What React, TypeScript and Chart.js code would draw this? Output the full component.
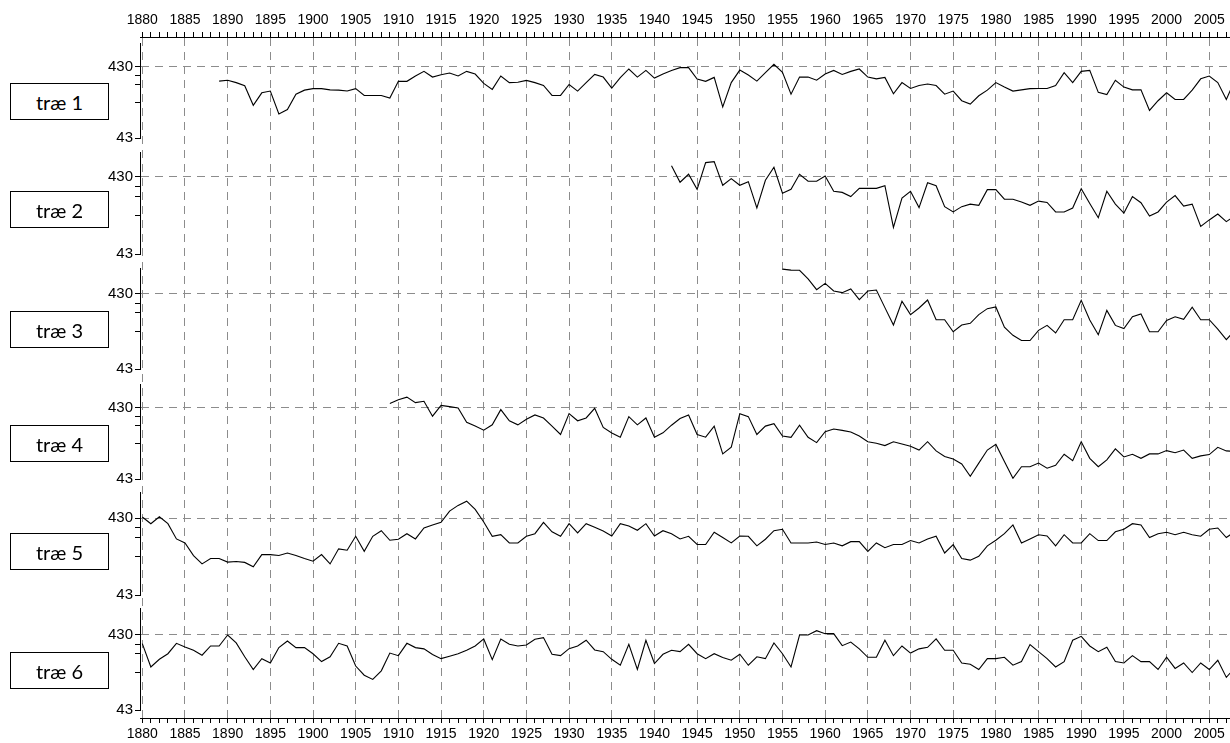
import { useEffect, useRef } from 'react';
import { Chart, registerables } from 'chart.js';

Chart.register(...registerables);

// ---------- data ----------
const tree1Start = 1889;
const tree1 = [272, 280, 259, 234, 124, 186, 197, 94, 108, 178,
  203, 213, 213, 205, 203, 197, 213, 171, 171, 171,
  157, 270, 270, 321, 373, 310, 335, 354, 321, 373,
  342, 253, 208, 321, 259, 262, 278, 259, 236, 171,
  171, 244, 197, 259, 338, 310, 217, 304, 403, 310,
  385, 300, 342, 385, 421, 421, 290, 270, 307, 118,
  259, 389, 331, 272, 357, 469, 362, 178, 310, 310,
  280, 342, 385, 338, 373, 403, 310, 293, 307, 180,
  259, 214, 236, 248, 236, 178, 197, 144, 129, 169,
  203, 259, 224, 197, 205, 213, 214, 214, 236, 357,
  259, 373, 385, 189, 176, 280, 224, 205, 205, 105,
  144, 186, 150, 150, 203, 293, 321, 259, 150, 280];

const tree2Start = 1942;
const tree2 = [600, 367, 466, 297, 660, 680, 335, 409,
  335, 373, 170, 389, 574, 264, 297, 466, 378, 378,
  443, 280, 271, 239, 306, 306, 306, 331, 95, 229,
  280, 172, 362, 331, 177, 151, 177, 191, 184, 294,
  294, 221, 221, 203, 184, 209, 201, 151, 151, 170,
  303, 195, 127, 280, 191, 146, 239, 199, 134, 151,
  203, 246, 180, 191, 98, 119, 142, 113, 134];

const tree3Start = 1955;
const tree3 = [923, 896, 891, 682, 491,
  596, 471, 448, 502, 361, 471, 486, 283, 166, 344,
  228, 280, 357, 195, 195, 135, 166, 175, 228, 274,
  289, 155, 121, 103, 103, 141, 164, 130, 195, 195,
  354, 193, 123, 260, 164, 149, 214, 233, 135, 135,
  191, 214, 198, 286, 195, 195, 146, 106, 141];

const tree4Start = 1909;
const tree4 = [499,
  561, 612, 511, 534, 330, 468, 450, 430, 271, 239,
  209, 249, 408, 284, 249, 298, 343, 311, 239, 182,
  358, 284, 311, 425, 229, 191, 167, 325, 249, 311,
  167, 192, 246, 305, 343, 182, 167, 239, 97, 121,
  358, 325, 182, 239, 259, 173, 166, 246, 166, 140,
  199, 217, 208, 197, 173, 144, 137, 127, 144, 134,
  124, 110, 144, 107, 89, 82, 70, 47, 72, 110,
  132, 76, 44, 64, 64, 72, 61, 67, 96, 78,
  144, 84, 64, 80, 114, 88, 96, 84, 97, 97,
  108, 101, 110, 84, 91, 95, 120, 107, 105];

const tree5Start = 1880;
const tree5 = [443, 363, 447, 363, 230, 204, 140, 109, 128, 128,
  115, 117, 114, 100, 144, 144, 140, 151, 140, 128,
  118, 144, 109, 171, 164, 249, 159, 249, 294, 221,
  228, 269, 230, 319, 349, 378, 529, 627, 712, 555,
  382, 249, 261, 204, 204, 249, 269, 378, 285, 249,
  363, 275, 363, 325, 292, 251, 363, 339, 298, 363,
  251, 294, 269, 230, 249, 195, 195, 281, 240, 204,
  251, 249, 187, 228, 294, 307, 204, 204, 204, 210,
  195, 204, 187, 212, 212, 158, 204, 177, 195, 195,
  219, 204, 230, 249, 151, 194, 128, 122, 137, 187,
  221, 269, 349, 204, 230, 261, 251, 187, 261, 204,
  204, 269, 219, 219, 285, 307, 363, 349, 240, 269,
  281, 261, 281, 261, 249, 307, 319, 240, 285];

const tree6Start = 1880;
const tree6 = [330, 161, 204, 242, 333, 298, 269, 231, 307, 307,
  430, 337, 220, 149, 208, 182, 292, 358, 292, 292,
  242, 190, 220, 333, 307, 166, 125, 110, 143, 247,
  228, 333, 292, 281, 236, 208, 224, 242, 269, 307,
  381, 202, 381, 323, 307, 317, 377, 397, 238, 228,
  283, 307, 366, 272, 258, 204, 170, 323, 149, 366,
  179, 238, 269, 258, 323, 242, 208, 242, 215, 198,
  238, 170, 220, 208, 337, 242, 161, 430, 430, 491,
  448, 448, 310, 346, 281, 217, 217, 366, 228, 307,
  247, 281, 295, 381, 269, 269, 182, 175, 149, 208,
  208, 217, 170, 190, 320, 258, 208, 161, 190, 366,
  413, 307, 258, 295, 190, 182, 228, 190, 190, 149,
  217, 154, 182, 136, 182, 149, 198, 117, 157];

const panelNames = ['træ 1', 'træ 2', 'træ 3', 'træ 4', 'træ 5', 'træ 6'];
const panelStarts = [tree1Start, tree2Start, tree3Start, tree4Start, tree5Start, tree6Start];
const panelValues = [tree1, tree2, tree3, tree4, tree5, tree6];

const firstYear = 1880;
const lastYear = 2007;
const yLabelTicks = [43, 430];
const yMinorTicks = [136, 242, 322];

// ---------- layout (styles) ----------
const W = 1230;
const H = 743;
const xMin = 1879.73;
const xMax = 2007.43;
const panelMax = [936, 906, 955, 936, 936, 985];
const panelHeights = [95, 102, 101, 95, 103, 102];
const gapHeights = [6, 14, 14, 15, 13, 13, 8];
const boxCenters = [101, 209, 329, 443, 551, 670];

const GRID = '#8c8c8c';
const AXIS_W = 140;
const xFont = { family: '"Liberation Sans Narrow", "Liberation Sans", Arial, sans-serif', size: 14 };
const yFont = { family: '"Liberation Sans", Arial, sans-serif', size: 15 };

const xTickYears = Array.from({ length: lastYear - firstYear + 1 }, (_, i) => firstYear + i);

function xScale(position: 'top' | 'bottom', onArea: boolean) {
  return {
    type: 'linear',
    position,
    min: xMin,
    max: xMax,
    afterBuildTicks: (s: any) => { s.ticks = xTickYears.map((v) => ({ value: v })); },
    afterFit: (s: any) => { s.height = 25; },
    ticks: {
      autoSkip: false,
      maxRotation: 0,
      padding: 3,
      color: '#000',
      font: xFont,
      callback: (v: any) => (Number(v) % 5 === 0 ? String(v) : ''),
    },
    grid: {
      drawOnChartArea: onArea,
      color: (c: any) => (c.tick && c.tick.value % 5 === 0 ? GRID : 'rgba(0,0,0,0)'),
      lineWidth: 1,
      tickLength: 5,
      tickColor: '#000',
      tickWidth: 1,
      tickBorderDash: [],
    },
    border: { display: true, color: '#000', width: 1, dash: [8, 6] },
  };
}

export default function App() {
  const ref = useRef<HTMLCanvasElement>(null);

  useEffect(() => {
    if (!ref.current) return;
    const scales: any = { x: xScale('top', true), x2: xScale('bottom', false) };
    let weight = 20;
    const addGap = (i: number) => {
      scales['g' + i] = {
        type: 'linear', position: 'left', stack: 'panels', stackWeight: gapHeights[i], weight: weight--,
        min: 0, max: 1,
        afterFit: (s: any) => { s.width = AXIS_W; },
        ticks: { display: false },
        grid: { display: false, drawTicks: false },
        border: { display: false },
      };
    };
    addGap(0);
    const datasets: any[] = [];
    panelValues.forEach((vals, p) => {
      const id = 'y' + (p + 1);
      scales[id] = {
        type: 'logarithmic', position: 'left', stack: 'panels', stackWeight: panelHeights[p], weight: weight--,
        min: 43, max: panelMax[p],
        afterBuildTicks: (s: any) => {
          s.ticks = [...yLabelTicks, ...yMinorTicks].sort((a, b) => a - b).map((v) => ({ value: v }));
        },
        afterFit: (s: any) => { s.width = AXIS_W; },
        ticks: {
          autoSkip: false,
          padding: 2,
          color: '#000',
          font: yFont,
          callback: (v: any) => (yLabelTicks.includes(Number(v)) ? String(v) : ''),
        },
        grid: {
          color: (c: any) => (c.tick && c.tick.value === 430 ? GRID : 'rgba(0,0,0,0)'),
          lineWidth: 1,
          tickLength: 5,
          tickColor: '#000',
          tickBorderDash: [],
        },
        border: { display: true, color: '#000', width: 1, dash: [8, 6] },
      };
      addGap(p + 1);
      datasets.push({
        label: panelNames[p],
        data: vals.map((v, j) => ({ x: panelStarts[p] + j, y: v })),
        xAxisID: 'x',
        yAxisID: id,
        borderColor: '#000',
        borderWidth: 1.1,
        pointRadius: 0,
        tension: 0,
        fill: false,
      });
    });

    const chart = new Chart(ref.current, {
      type: 'line',
      data: { datasets },
      options: {
        animation: false,
        responsive: false,
        layout: { padding: { top: 12, left: 0, right: 0, bottom: 0 } },
        plugins: { legend: { display: false }, tooltip: { enabled: false } },
        scales,
      } as any,
    });
    return () => chart.destroy();
  }, []);

  return (
    <div style={{ position: 'fixed', left: 0, top: 0, width: W, height: H, background: '#fff' }}>
      <canvas ref={ref} width={W} height={H} style={{ position: 'absolute', left: 0, top: 0 }} />
      {panelNames.map((name, i) => (
        <div
          key={name}
          style={{
            position: 'absolute',
            left: 10,
            top: boxCenters[i] - 18,
            width: 99,
            height: 37,
            boxSizing: 'border-box',
            border: '1px solid #000',
            background: '#fff',
            display: 'flex',
            alignItems: 'center',
            justifyContent: 'center',
            fontFamily: 'Lato, "Open Sans", sans-serif',
            fontSize: 20,
            color: '#000',
          }}
        >
          {name}
        </div>
      ))}
    </div>
  );
}
